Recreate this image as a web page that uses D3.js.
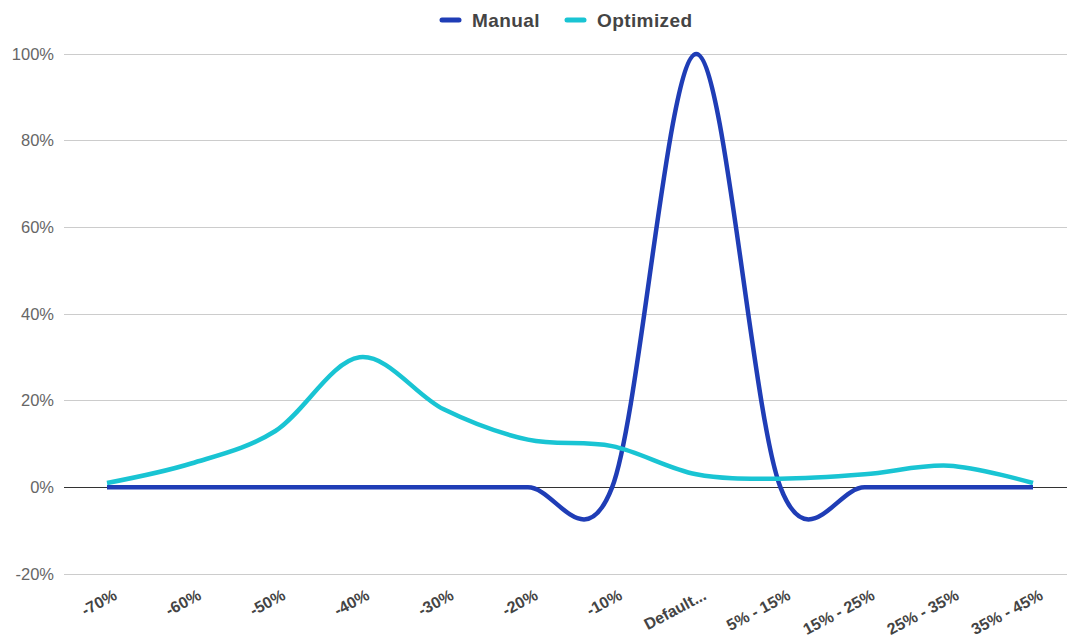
<!DOCTYPE html>
<html>
<head>
<meta charset="utf-8">
<script src="https://cdn.jsdelivr.net/npm/d3@7"></script>
<style>
  html, body { margin: 0; padding: 0; background: #fff; }
  svg { display: block; font-family: "Liberation Sans", Arial, Helvetica, sans-serif; }
</style>
</head>
<body>
<svg id="chart" width="1067" height="639"></svg>
<script>
// Categories along the x axis
const categories = ["-70%", "-60%", "-50%", "-40%", "-30%", "-20%", "-10%", "Default...", "5% - 15%", "15% - 25%", "25% - 35%", "35% - 45%"];
// Share of runs per bucket (percent)
const manual    = [0, 0, 0, 0, 0, 0, 0, 100, 0, 0, 0, 0];
const optimized = [1, 5.5, 13, 30, 18, 11, 9.5, 3, 2, 3, 5, 1];
// Y axis ticks (percent)
const yTicks = [-20, 0, 20, 40, 60, 80, 100];

const seriesNames = ["Manual", "Optimized"];
const seriesColors = ["#1f3db6", "#19c4d3"];

const svg = d3.select("#chart");
const W = 1067, H = 639;

const x = d3.scalePoint().domain(categories).range([107, 1033]);
const y = d3.scaleLinear().domain([-20, 100]).range([574, 54]);

// Gridlines
svg.append("g")
  .selectAll("line")
  .data(yTicks)
  .join("line")
  .attr("x1", 64).attr("x2", W)
  .attr("y1", d => y(d)).attr("y2", d => y(d))
  .attr("stroke", d => d === 0 ? "#333" : "#cccccc")
  .attr("stroke-width", 1)
  .attr("shape-rendering", "crispEdges");

// Y axis labels
const yAxis = d3.axisLeft(y).tickValues(yTicks).tickFormat(d => d + "%").tickSize(0).tickPadding(0);
const yg = svg.append("g").attr("transform", "translate(54,0)").call(yAxis);
yg.select(".domain").remove();
yg.selectAll("text")
  .attr("fill", "#666")
  .attr("font-size", 16.5)
  .attr("font-family", "Liberation Sans, Arial, sans-serif");

// X axis labels, rotated
const xAxis = d3.axisBottom(x).tickSize(0).tickPadding(0);
const xg = svg.append("g").attr("transform", "translate(0,588)").call(xAxis);
xg.select(".domain").remove();
xg.selectAll("text")
  .attr("fill", "#444")
  .attr("font-size", 16)
  .attr("font-weight", "bold")
  .attr("font-family", "Liberation Sans, Arial, sans-serif")
  .attr("text-anchor", "end")
  .attr("dy", "0.75em")
  .attr("transform", "translate(5,0) rotate(-28)");

// Lines
const line = d3.line()
  .x((d, i) => x(categories[i]))
  .y(d => y(d))
  .curve(d3.curveCardinal.tension(0));

[manual, optimized].forEach((vals, k) => {
  svg.append("path")
    .datum(vals)
    .attr("d", line)
    .attr("fill", "none")
    .attr("stroke", seriesColors[k])
    .attr("stroke-width", 4.5)
    .attr("stroke-linejoin", "round");
});

// Legend
const legendX = [442, 567];
const lg = svg.append("g");
seriesNames.forEach((name, k) => {
  lg.append("line")
    .attr("x1", legendX[k]).attr("x2", legendX[k] + 17)
    .attr("y1", 20).attr("y2", 20)
    .attr("stroke", seriesColors[k])
    .attr("stroke-width", 5)
    .attr("stroke-linecap", "round");
  lg.append("text")
    .attr("x", legendX[k] + 30)
    .attr("y", 26.5)
    .attr("fill", "#444")
    .attr("font-size", 19)
    .attr("letter-spacing", 0.4)
    .attr("font-weight", "bold")
    .text(name);
});
</script>
</body>
</html>
